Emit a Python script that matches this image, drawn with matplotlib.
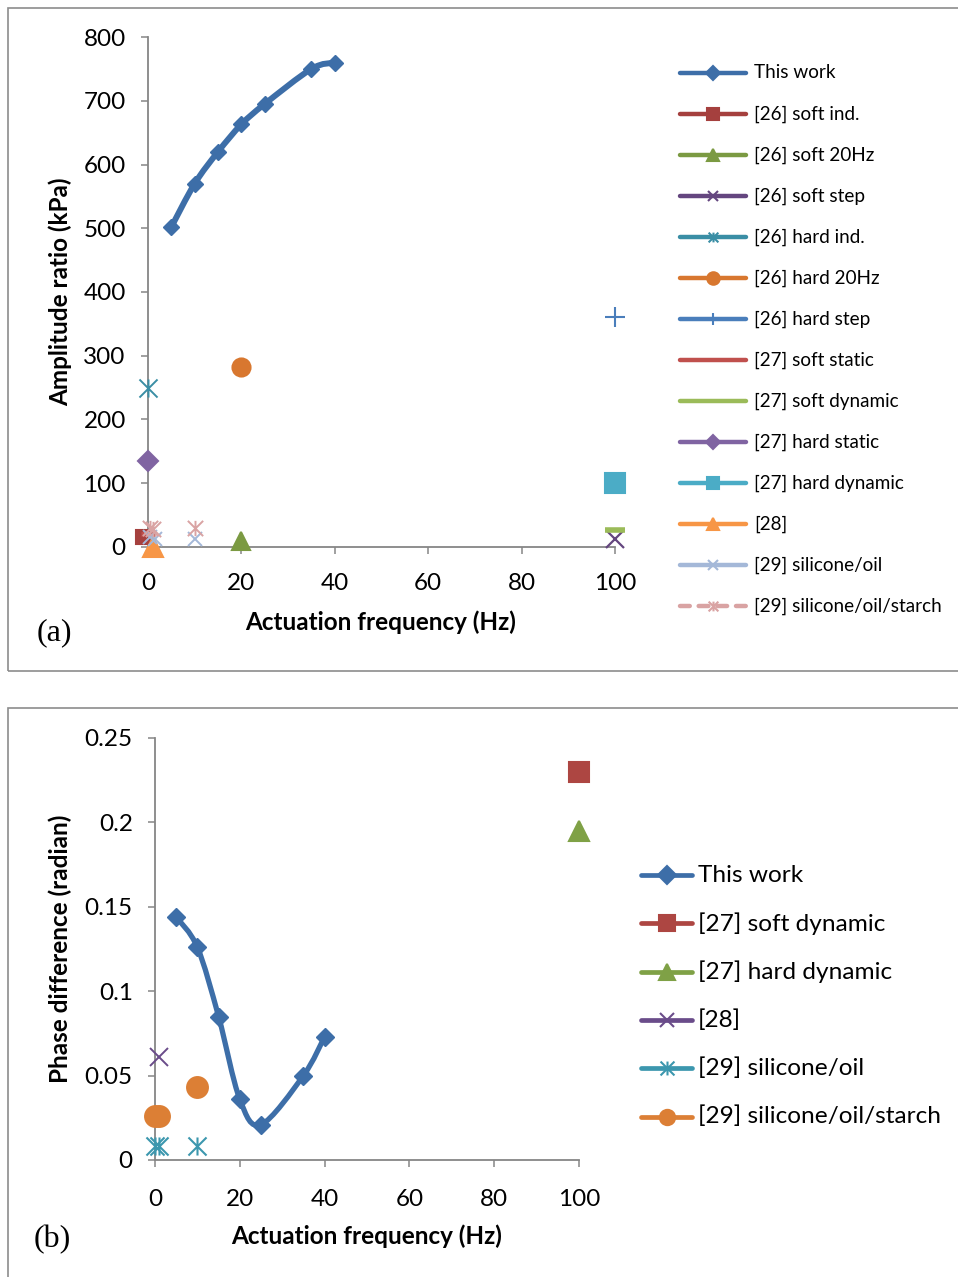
import matplotlib
matplotlib.use("Agg")
import matplotlib.pyplot as plt
import numpy as np
from matplotlib.path import Path
from matplotlib.patches import PathPatch, Rectangle
from matplotlib.lines import Line2D

plt.rcParams['font.family'] = ['Lato', 'DejaVu Sans']

W, H = 958, 1277

# ================= data, panel (a): amplitude ratio (kPa) =================
freq_work = [5, 10, 15, 20, 25, 35, 40]
amp_work = [502, 570, 620, 663, 695, 750, 760]

f26_soft_ind, a26_soft_ind = [-1], [15]
f26_soft_20, a26_soft_20 = [20], [10]
f26_soft_step, a26_soft_step = [100], [12]
f26_hard_ind, a26_hard_ind = [0], [250]
f26_hard_20, a26_hard_20 = [20], [283]
f26_hard_step, a26_hard_step = [100], [360]
f27_soft_static, a27_soft_static = [0], [20]
f27_soft_dyn, a27_soft_dyn = [100], [27]
f27_hard_static, a27_hard_static = [0], [135]
f27_hard_dyn, a27_hard_dyn = [100], [100]
f28, a28 = [1], [0]
f29_oil, a29_oil = [0.5, 1.5, 10], [16, 12, 12]
f29_starch, a29_starch = [0.5, 1, 10], [30, 28, 30]

amp_yticks = [0, 100, 200, 300, 400, 500, 600, 700, 800]
freq_xticks = [0, 20, 40, 60, 80, 100]

# ================= data, panel (b): phase difference (radian) =================
phase_work = [0.144, 0.126, 0.085, 0.036, 0.021, 0.050, 0.073]
fb27_soft_dyn, p27_soft_dyn = [100], [0.230]
fb27_hard_dyn, p27_hard_dyn = [100], [0.195]
fb28, p28 = [1], [0.061]
fb29_oil, p29_oil = [0, 1, 10], [0.008, 0.008, 0.008]
fb29_starch, p29_starch = [0, 1, 10], [0.026, 0.026, 0.043]

phase_yticks = [0, 0.05, 0.1, 0.15, 0.2, 0.25]
phase_yticklabels = ["0", "0.05", "0.1", "0.15", "0.2", "0.25"]

# excel style asterisk marker (x + vertical bar)
ASTER = Path([(-1, -1), (1, 1), (-1, 1), (1, -1), (0, -1), (0, 1)],
             [Path.MOVETO, Path.LINETO] * 3)

GRAY = '#868686'


def smooth_path(xs, ys):
    # bezier path through the points (excel "smoothed line")
    pts = np.column_stack([xs, ys]).astype(float)
    n = len(pts)
    verts = [pts[0]]
    codes = [Path.MOVETO]
    for i in range(n - 1):
        p0 = pts[max(i - 1, 0)]
        p1 = pts[i]
        p2 = pts[i + 1]
        p3 = pts[min(i + 2, n - 1)]
        verts += [p1 + (p2 - p0) / 6.0, p2 - (p3 - p1) / 6.0, p2]
        codes += [Path.CURVE4] * 3
    return Path(verts, codes)


def px_axes(fig, left, top, right, bottom):
    return fig.add_axes([left / W, 1 - bottom / H, (right - left) / W, (bottom - top) / H])


def style_axes(ax, xpad=13):
    for s in ['top', 'right']:
        ax.spines[s].set_visible(False)
    for s in ['left', 'bottom']:
        ax.spines[s].set_color(GRAY)
        ax.spines[s].set_linewidth(1.3)
    ax.tick_params(direction='out', length=5, width=1.1, color=GRAY,
                   labelsize=17.5, pad=11, labelcolor='black')
    ax.tick_params(axis='x', pad=xpad)


def legend_entry(fig, x0, x1, y, tx, label, color, marker=None, ms=8, fs=12.5,
                 lw=3.2, ls='-', mew=1.5, mfc=None):
    fy = 1 - y / H
    fig.add_artist(Line2D([x0 / W, x1 / W], [fy, fy], color=color, lw=lw, ls=ls,
                          solid_capstyle='round', dash_capstyle='round',
                          transform=fig.transFigure))
    if marker is not None:
        fig.add_artist(Line2D([(x0 + x1) / 2 / W], [fy], marker=marker, ms=ms,
                              color=color, mew=mew, ls='none',
                              mfc=mfc if mfc else color, transform=fig.transFigure))
    fig.text(tx / W, fy, label, fontsize=fs, va='center', ha='left', color='black')


fig = plt.figure(figsize=(W / 100, H / 100), dpi=100)

# panel frames
fig.add_artist(Rectangle((8 / W, 1 - 671 / H), 1.0, 663 / H, fill=False,
                         ec='#8c8c8c', lw=1.2, transform=fig.transFigure))
fig.add_artist(Rectangle((8 / W, 1 - 1290 / H), 1.0, 582 / H, fill=False,
                         ec='#8c8c8c', lw=1.2, transform=fig.transFigure))

# ================= panel (a) =================
ax1 = px_axes(fig, 148, 37, 615, 547)
style_axes(ax1, xpad=14)
ax1.set_xlim(0, 100)
ax1.set_ylim(0, 800)
ax1.set_xticks(freq_xticks)
ax1.set_yticks(amp_yticks)

c_work = '#3d6ea8'
ax1.add_patch(PathPatch(smooth_path(freq_work, amp_work), fc='none', ec=c_work,
                        lw=4.3, capstyle='round', zorder=3))
ax1.plot(freq_work, amp_work, ls='none', marker='D', ms=8.2, color=c_work, zorder=4)

a_series = [
    (f26_soft_ind, a26_soft_ind, 's', 10, '#a5403e', 1.5),
    (f26_soft_20, a26_soft_20, '^', 13, '#7b9a42', 1.5),
    (f26_soft_step, a26_soft_step, 'x', 13, '#64467f', 1.6),
    (f26_hard_ind, a26_hard_ind, ASTER, 13, '#3a8ea5', 1.4),
    (f26_hard_20, a26_hard_20, 'o', 13, '#d8772f', 1.5),
    (f26_hard_step, a26_hard_step, '+', 14, '#4a7ebb', 1.5),
    (f27_soft_static, a27_soft_static, '_', 10, '#c0504d', 3.5),
    (f27_soft_dyn, a27_soft_dyn, '_', 14, '#9bbb59', 4),
    (f27_hard_static, a27_hard_static, 'D', 10, '#8064a2', 1.5),
    (f27_hard_dyn, a27_hard_dyn, 's', 14, '#4bacc6', 1.5),
    (f28, a28, '^', 14, '#f79646', 1.5),
    (f29_oil, a29_oil, 'x', 10, '#a4b8d8', 1.4),
    (f29_starch, a29_starch, ASTER, 11, '#d9a3a3', 1.4),
]
for xs, ys, mk, ms, col, mew in a_series:
    ax1.plot(xs, ys, ls='none', marker=mk, ms=ms, color=col, mew=mew,
             clip_on=False, zorder=5)

ax1.set_xlabel("Actuation frequency (Hz)", fontsize=17.5, fontweight='bold', va='center')
ax1.set_ylabel("Amplitude ratio (kPa)", fontsize=17.5, fontweight='bold', va='center')
ax1.xaxis.set_label_coords(0.499, -0.147)
ax1.yaxis.set_label_coords(-0.188, 0.5)

fig.text(37 / W, 1 - 633 / H, "(a)", fontsize=23, family='Liberation Serif',
         va='center', ha='left')

a_legend = [
    ("This work", c_work, 'D', 7),
    ("[26] soft ind.", '#a5403e', 's', 8),
    ("[26] soft 20Hz", '#7b9a42', '^', 8),
    ("[26] soft step", '#64467f', 'x', 7),
    ("[26] hard ind.", '#3a8ea5', ASTER, 7),
    ("[26] hard 20Hz", '#d8772f', 'o', 9),
    ("[26] hard step", '#4a7ebb', '+', 8),
    ("[27] soft static", '#c0504d', None, 0),
    ("[27] soft dynamic", '#9bbb59', None, 0),
    ("[27] hard static", '#8064a2', 'D', 7),
    ("[27] hard dynamic", '#4bacc6', 's', 9),
    ("[28]", '#f79646', '^', 8),
    ("[29] silicone/oil", '#a4b8d8', 'x', 7),
    ("[29] silicone/oil/starch", '#d9a3a3', ASTER, 7),
]
for i, (lab, col, mk, ms) in enumerate(a_legend):
    ls = (0, (2.2, 2.0)) if 'starch' in lab else '-'
    legend_entry(fig, 680, 746, 73 + 41 * i, 754, lab, col, mk, ms, fs=13.6, ls=ls)

# ================= panel (b) =================
ax2 = px_axes(fig, 155, 738, 579, 1160)
style_axes(ax2, xpad=16)
ax2.set_xlim(0, 100)
ax2.set_ylim(0, 0.25)
ax2.set_xticks(freq_xticks)
ax2.set_yticks(phase_yticks)
ax2.set_yticklabels(phase_yticklabels)

ax2.add_patch(PathPatch(smooth_path(freq_work, phase_work), fc='none', ec=c_work,
                        lw=3.8, capstyle='round', zorder=3))
ax2.plot(freq_work, phase_work, ls='none', marker='D', ms=9, color=c_work, zorder=4)

b_series = [
    (fb27_soft_dyn, p27_soft_dyn, 's', 14, '#ad4642', 1.5),
    (fb27_hard_dyn, p27_hard_dyn, '^', 14, '#7fa146', 1.5),
    (fb28, p28, 'x', 13, '#6a4c8a', 1.4),
    (fb29_oil, p29_oil, ASTER, 13, '#3c97ae', 1.5),
    (fb29_starch, p29_starch, 'o', 15, '#dc7f35', 1.5),
]
for xs, ys, mk, ms, col, mew in b_series:
    ax2.plot(xs, ys, ls='none', marker=mk, ms=ms, color=col, mew=mew,
             clip_on=False, zorder=5)

ax2.set_xlabel("Actuation frequency (Hz)", fontsize=17.5, fontweight='bold', va='center')
ax2.set_ylabel("Phase difference (radian)", fontsize=17.5, fontweight='bold', va='center')
ax2.xaxis.set_label_coords(0.498, -0.18)
ax2.yaxis.set_label_coords(-0.224, 0.5)

fig.text(34 / W, 1 - 1240 / H, "(b)", fontsize=23, family='Liberation Serif',
         va='center', ha='left')

b_legend = [
    ("This work", c_work, 'D', 9),
    ("[27] soft dynamic", '#ad4642', 's', 12),
    ("[27] hard dynamic", '#7fa146', '^', 12),
    ("[28]", '#6a4c8a', 'x', 10),
    ("[29] silicone/oil", '#3c97ae', ASTER, 10),
    ("[29] silicone/oil/starch", '#dc7f35', 'o', 11),
]
for i, (lab, col, mk, ms) in enumerate(b_legend):
    legend_entry(fig, 641, 692, 875 + 48.3 * i, 698, lab, col, mk, ms, fs=17.6, lw=3.4)

fig.savefig("out.png", dpi=100)
